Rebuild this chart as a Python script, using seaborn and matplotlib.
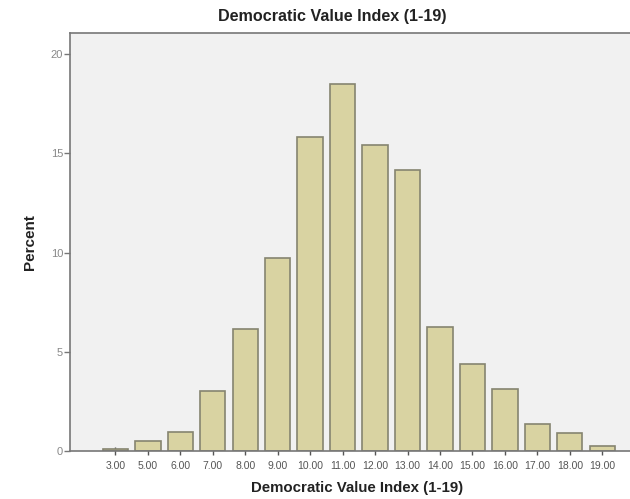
import matplotlib
matplotlib.use("Agg")
import matplotlib.pyplot as plt
import seaborn as sns
import pandas as pd

categories = ["3.00", "5.00", "6.00", "7.00", "8.00", "9.00", "10.00", "11.00",
              "12.00", "13.00", "14.00", "15.00", "16.00", "17.00", "18.00", "19.00"]
percent = [0.1, 0.5, 0.95, 3.0, 6.15, 9.7, 15.8, 18.5,
           15.4, 14.15, 6.25, 4.4, 3.1, 1.35, 0.9, 0.25]
y_ticks = [0, 5, 10, 15, 20]

df = pd.DataFrame({"cat": categories, "pct": percent})

sns.set_theme(style="white")
plt.rcParams['font.family'] = ['Liberation Sans', 'DejaVu Sans']

fig = plt.figure(figsize=(6.3, 4.99), dpi=100)
ax_w = 1 - 70/630 + 0.01
ax_h = (451 - 33) / 499
ax = fig.add_axes([70/630, (499-451)/499, ax_w, ax_h])
ax.set_facecolor("#F1F1F1")

sns.barplot(data=df, x="cat", y="pct", order=categories, ax=ax,
            color="#D9D3A2", edgecolor="#858470", linewidth=1.2,
            width=0.78, saturation=1)

ax.set_xlim(-1.4, 16.05)
ax.set_ylim(0, 21.06)
ax.set_yticks(y_ticks)
ax.set_yticklabels([str(t) for t in y_ticks])

for s in ["left", "top", "bottom"]:
    ax.spines[s].set_color("#777777")
    ax.spines[s].set_linewidth(1.2)
ax.spines["right"].set_visible(False)

ax.tick_params(axis="y", direction="out", length=4, width=1, color="#777777",
               labelsize=8, labelcolor="#888888", pad=1, left=True)
ax.tick_params(axis="x", direction="inout", length=6, width=1, color="#555555",
               labelsize=7.5, labelcolor="#555555", pad=4.5, bottom=True)

ax_px = 630 * ax_w
ax_py = 499 * ax_h
ax.set_xlabel("Democratic Value Index (1-19)", fontsize=10.8, fontweight="bold",
              color="#222222")
ax.xaxis.set_label_coords((357 - 70) / ax_px, -(488 - 451) / ax_py)
ax.xaxis.label.set_va("center")
ax.set_ylabel("Percent", fontsize=11, fontweight="bold", color="#222222")
ax.yaxis.set_label_coords(-(70 - 30) / ax_px, 0.5)
ax.yaxis.label.set_va("center")
fig.text(332/630, 1 - 17/499, "Democratic Value Index (1-19)", ha="center",
         va="center", fontsize=11.6, fontweight="bold", color="#222222")

fig.savefig("out.png", dpi=100, facecolor="white")
